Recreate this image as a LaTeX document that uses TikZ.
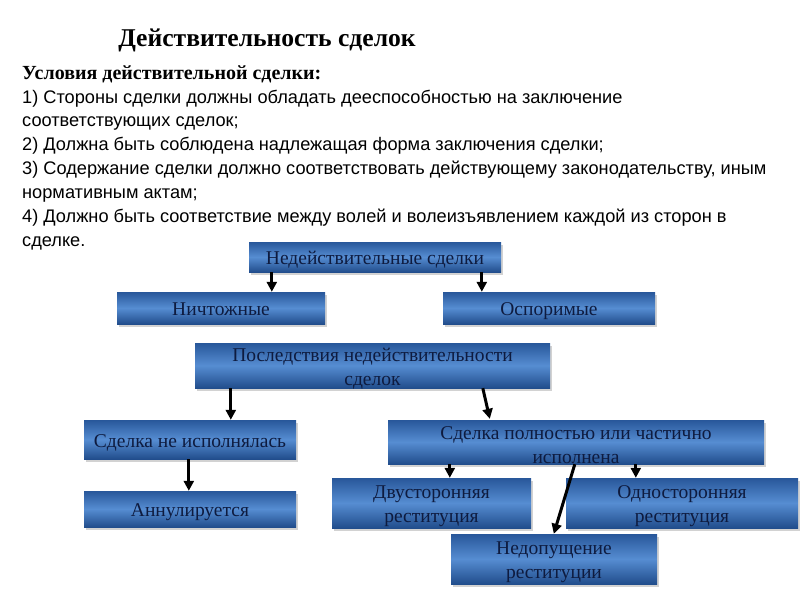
\documentclass[tikz,border=0pt]{standalone}
\usepackage{fontspec}
\setmainfont{Liberation Serif}
\newfontfamily\bodysans{Liberation Sans}
\usetikzlibrary{arrows.meta,calc,shadows}
\definecolor{boxtop}{HTML}{28579A}
\definecolor{boxmid}{HTML}{568DD2}
\definecolor{boxbot}{HTML}{214D8C}
\definecolor{boxtext}{HTML}{0E1B3F}
\tikzset{
  bluebox/.style={rectangle, inner sep=2pt, align=center, text=boxtext,
    top color=boxtop, bottom color=boxbot, middle color=boxmid,
    font=\fontsize{19.5}{24.5}\selectfont,
    drop shadow={shadow xshift=2pt, shadow yshift=-3pt, opacity=0.35, fill=gray}},
  oneline/.style={text height=16.5pt, text depth=1.5pt},
  twoline/.style={label={[align=center, text=boxtext, inner sep=0pt, yshift=-3pt,
    font=\fontsize{19.5}{24.5}\selectfont]center:#1}},
  arr/.style={line width=3pt, -{Triangle[length=10pt,width=10pt]}},
  bodyline/.style={anchor=base west, inner sep=0pt, font=\bodysans\fontsize{18.2}{24}\selectfont}
}
\begin{document}
\begin{tikzpicture}[x=1pt,y=-1pt]
\useasboundingbox[fill=white] (0,0) rectangle (800,600);
\node[anchor=base, inner sep=0pt, font=\bfseries\fontsize{25.6}{30}\selectfont] (title) at (267,46) {Действительность сделок};
\node[anchor=base west, inner sep=0pt, font=\bfseries\fontsize{20}{24}\selectfont] (head) at (22,79) {Условия действительной сделки:};
\node[bodyline] (l1) at (22,103) {1) Стороны сделки должны обладать дееспособностью на заключение};
\node[bodyline] (l2) at (22,126) {соответствующих сделок;};
\node[bodyline] (l3) at (22,150) {2) Должна быть соблюдена надлежащая форма заключения сделки;};
\node[bodyline] (l4) at (22,174) {3) Содержание сделки должно соответствовать действующему законодательству, иным};
\node[bodyline] (l5) at (22,198) {нормативным актам;};
\node[bodyline] (l6) at (22,222) {4) Должно быть соответствие между волей и волеизъявлением каждой из сторон в};
\node[bodyline] (l7) at (22,246) {сделке.};

\node[bluebox, oneline, minimum width=252pt, minimum height=30pt] (n1) at (375,257) {Недействительные сделки};
\node[bluebox, oneline, minimum width=208pt, minimum height=32pt] (n2) at (221,308) {Ничтожные};
\node[bluebox, oneline, minimum width=212pt, minimum height=32pt] (n3) at (549,308) {Оспоримые};
\node[bluebox, minimum width=355pt, minimum height=45pt, twoline={Последствия недействительности\\сделок}] (n4) at (372.5,365.5) {};
\node[bluebox, oneline, minimum width=212pt, minimum height=39pt] (n5) at (190,439.5) {Сделка не исполнялась};
\node[bluebox, minimum width=376pt, minimum height=44pt, twoline={Сделка полностью или частично\\исполнена}] (n6) at (576,442) {};
\node[bluebox, oneline, minimum width=212pt, minimum height=36pt] (n7) at (190,509) {Аннулируется};
\node[bluebox, minimum width=199pt, minimum height=50pt, twoline={Двусторонняя\\реституция}] (n8) at (431.5,503) {};
\node[bluebox, minimum width=232pt, minimum height=50pt, twoline={Односторонняя\\реституция}] (n9) at (682,503) {};
\node[bluebox, minimum width=206pt, minimum height=50pt, twoline={Недопущение\\реституции}] (n10) at (554,559) {};

\draw[arr] ($(n1.south west)+(23,0)$) coordinate (a1) -- (a1 |- n2.north);
\draw[arr] ($(n1.south west)+(233,0)$) coordinate (a2) -- (a2 |- n3.north);
\draw[arr] ($(n4.south west)+(36,0)$) coordinate (a3) -- (a3 |- n5.north);
\draw[arr] ($(n4.south west)+(288,0)$) -- ($(n6.north west)+(102,-1)$);
\draw[arr] ($(n5.south west)+(105,0)$) coordinate (a5) -- (a5 |- n7.north);
\draw[arr] ($(n6.south west)+(62,0)$) coordinate (a6) -- (a6 |- n8.north);
\draw[arr] ($(n6.south west)+(248,0)$) coordinate (a7) -- (a7 |- n9.north);
\draw[arr] ($(n6.south west)+(187,0)$) -- ($(n10.north west)+(103,0)$);
\end{tikzpicture}
\end{document}
